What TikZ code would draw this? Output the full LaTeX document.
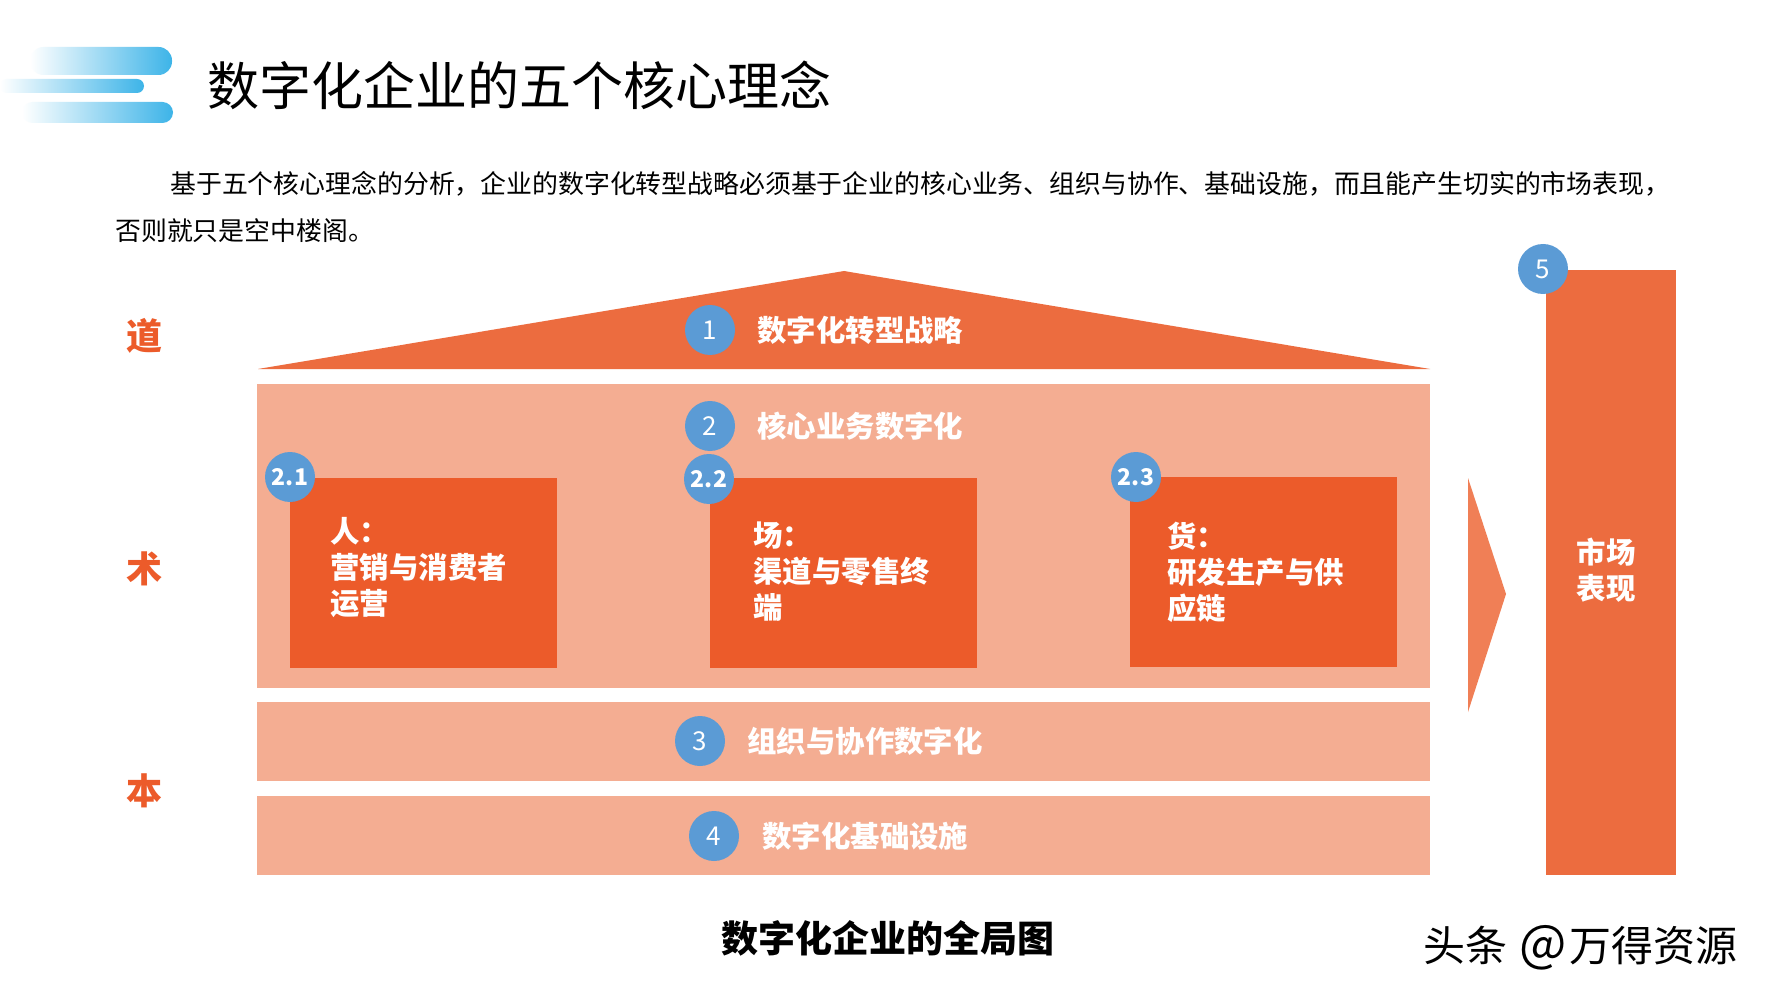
\documentclass[tikz,border=0pt]{standalone}
\usepackage{fontspec}
\setmainfont{Noto Sans CJK SC}
\definecolor{roof}{HTML}{EC6C3F}
\definecolor{pale}{HTML}{F4AD92}
\definecolor{deep}{HTML}{EC5B2A}
\definecolor{badge}{HTML}{5B9BD5}
\definecolor{logoblue}{HTML}{3DB4E8}
\definecolor{arrowc}{HTML}{F07F56}
\begin{document}
\begin{tikzpicture}[x=0.5pt,y=-0.5pt,
  badgec/.style={circle,fill=badge,text=white,minimum size=25pt,inner sep=0pt,font=\fontsize{13}{13}\selectfont},
  subbadge/.style={badgec,font=\bfseries\fontsize{11.5}{12}\selectfont},
  bandtxt/.style={text=white,font=\bfseries\fontsize{14.7}{16}\selectfont,anchor=west,inner sep=0pt},
  boxtxt/.style={text=white,font=\bfseries\fontsize{14.7}{18}\selectfont,align=left,anchor=west,inner sep=0pt},
  sidelbl/.style={text=deep,font=\bfseries\fontsize{18}{18}\selectfont,inner sep=0pt},
  paratxt/.style={anchor=west,inner sep=0pt,font=\fontsize{12.93}{14}\selectfont},
]
\useasboundingbox (0,0) rectangle (1778,1000);
\fill[white] (0,0) rectangle (1778,1000);
% logo
\shade[left color=white,right color=logoblue,rounded corners=6.75pt] (30,47) rectangle (172,75);
\shade[left color=white,right color=logoblue,rounded corners=3.5pt] (0,79) rectangle (144,93);
\shade[left color=white,right color=logoblue,rounded corners=5.25pt] (22,102) rectangle (173,123);
% title
\node[anchor=west,inner sep=0pt,font=\fontsize{26}{26}\selectfont] (title) at (207,85) {数字化企业的五个核心理念};
\node[paratxt] (para1) at (170,184) {基于五个核心理念的分析，企业的数字化转型战略必须基于企业的核心业务、组织与协作、基础设施，而且能产生切实的市场表现，};
\node[paratxt] (para2) at (115,231) {否则就只是空中楼阁。};
% roof
\fill[roof] (258,369) -- (844,271) -- (1430,369) -- cycle;
\node[badgec] (b1) at (710,330) {1};
\node[bandtxt] (t1) at (757,330) {数字化转型战略};
% core business
\fill[pale] (257,384) rectangle (1430,688);
\node[badgec] (b2) at (710,426) {2};
\node[bandtxt] (t2) at (757,426) {核心业务数字化};
\fill[deep] (290,478) rectangle (557,668);
\fill[deep] (710,478) rectangle (977,668);
\fill[deep] (1130,477) rectangle (1397,667);
\node[subbadge] (b21) at (290,477) {2.1};
\node[subbadge] (b22) at (709,479) {2.2};
\node[subbadge] (b23) at (1136,477) {2.3};
\node[boxtxt] (t21) at (330,568) {人：\\营销与消费者\\运营};
\node[boxtxt] (t22) at (753,572) {场：\\渠道与零售终\\端};
\node[boxtxt] (t23) at (1167,572) {货：\\研发生产与供\\应链};
% band 3
\fill[pale] (257,702) rectangle (1430,781);
\node[badgec] (b3) at (700,741) {3};
\node[bandtxt] (t3) at (747,741) {组织与协作数字化};
% band 4
\fill[pale] (257,796) rectangle (1430,875);
\node[badgec] (b4) at (714,836) {4};
\node[bandtxt] (t4) at (762,836) {数字化基础设施};
% arrow
\fill[arrowc] (1468,478) -- (1506,594) -- (1468,712) -- cycle;
% market column
\fill[roof] (1546,270) rectangle (1676,875);
\node[text=white,font=\bfseries\fontsize{14.7}{18}\selectfont,align=center,inner sep=0pt] (t5) at (1606,570) {市场\\表现};
\node[badgec] (b5) at (1543,269) {5};
% side labels
\node[sidelbl] (dao) at (144,336) {道};
\node[sidelbl] (shu) at (144,569) {术};
\node[sidelbl] (ben) at (144,791) {本};
% caption
\node[inner sep=0pt,font=\bfseries\fontsize{18.5}{19}\selectfont] (cap) at (888,938) {数字化企业的全局图};
\node[anchor=west,inner sep=0pt,font=\fontsize{21}{21}\selectfont] (wm) at (1423,948) {头条 \hspace{1.5pt}{\fontsize{25}{21}\selectfont @}\hspace{1pt}万得资源};
\end{tikzpicture}
\end{document}
